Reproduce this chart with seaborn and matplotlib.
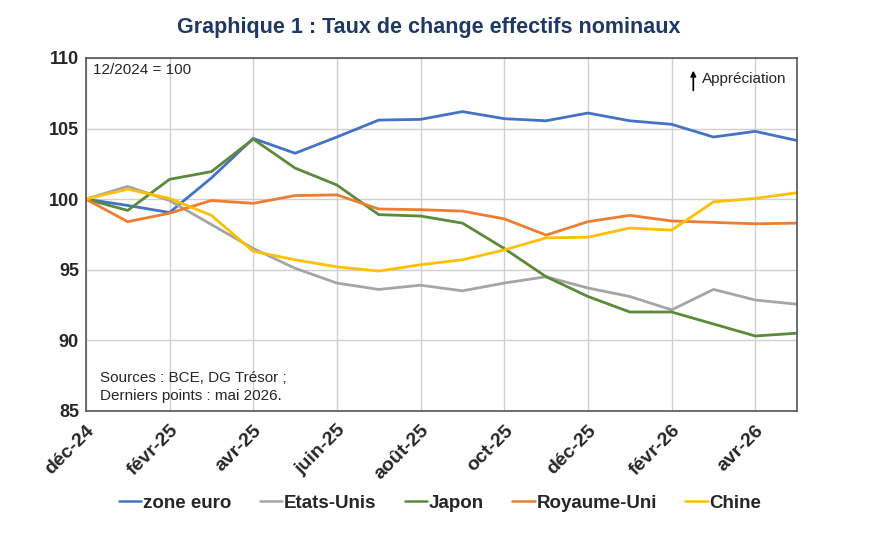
import matplotlib.pyplot as plt
import seaborn as sns
import pandas as pd

mois = ['déc-24', 'janv-25', 'févr-25', 'mars-25', 'avr-25', 'mai-25', 'juin-25', 'juil-25',
        'août-25', 'sept-25', 'oct-25', 'nov-25', 'déc-25', 'janv-26', 'févr-26', 'mars-26',
        'avr-26', 'mai-26']

zone_euro = [100, 99.55, 99.05, 101.5, 104.3, 103.25, 104.4, 105.6, 105.65, 106.2,
             105.7, 105.55, 106.1, 105.55, 105.3, 104.4, 104.8, 104.15]
etats_unis = [100, 100.9, 99.9, 98.2, 96.5, 95.1, 94.05, 93.6, 93.9, 93.5,
              94.05, 94.5, 93.7, 93.1, 92.15, 93.6, 92.85, 92.55]
japon = [100, 99.2, 101.4, 101.95, 104.25, 102.2, 101.0, 98.9, 98.8, 98.3,
         96.5, 94.5, 93.1, 92.0, 92.0, 91.15, 90.3, 90.5]
royaume_uni = [100, 98.4, 99.0, 99.9, 99.7, 100.25, 100.3, 99.3, 99.25, 99.15,
               98.6, 97.45, 98.4, 98.85, 98.45, 98.35, 98.25, 98.3]
chine = [100, 100.7, 100.05, 98.85, 96.3, 95.7, 95.2, 94.9, 95.35, 95.7,
         96.4, 97.25, 97.3, 97.95, 97.8, 99.8, 100.05, 100.45]

series = ['zone euro', 'Etats-Unis', 'Japon', 'Royaume-Uni', 'Chine']
couleurs = ['#4472C4', '#A5A5A5', '#5A8A3A', '#ED7D31', '#FFC000']

df = pd.DataFrame({
    'mois': list(range(len(mois))) * 5,
    'valeur': zone_euro + etats_unis + japon + royaume_uni + chine,
    'pays': sum([[s] * len(mois) for s in series], []),
})

sns.set_style('white')
plt.rcParams['font.family'] = ['Liberation Sans', 'DejaVu Sans']

fig = plt.figure(figsize=(8.76, 5.47), dpi=100)
ax = fig.add_axes([0.098, 0.249, 0.812, 0.645])

sns.lineplot(data=df, x='mois', y='valeur', hue='pays', hue_order=series,
             palette=couleurs, linewidth=2, ax=ax, legend=True)

ax.set_xlim(0, len(mois) - 1)
ax.set_ylim(85, 110)
ax.set_yticks([85, 90, 95, 100, 105, 110])
ax.set_xticks(range(0, len(mois), 2))
ax.set_xticklabels(mois[::2], rotation=45, ha='right', rotation_mode='anchor',
                   fontsize=14, fontweight='bold')
ax.set_yticklabels([85, 90, 95, 100, 105, 110], fontsize=13, fontweight='bold')
ax.tick_params(axis='x', length=0, pad=8)
ax.tick_params(axis='y', length=0, pad=5)
ax.set_xlabel('')
ax.set_ylabel('')
ax.grid(True, color='#D0D0D0', linewidth=1)
ax.set_axisbelow(True)
for sp in ax.spines.values():
    sp.set_color('#555555')
    sp.set_linewidth(1.2)

ax.text(0.01, 0.966, '12/2024 = 100', transform=ax.transAxes, fontsize=11, va='center')
ax.annotate('', xy=(0.854, 0.972), xytext=(0.854, 0.9), xycoords='axes fraction',
            arrowprops=dict(arrowstyle='-|>', color='black', lw=1.2, mutation_scale=8))
ax.text(0.866, 0.94, 'Appréciation', transform=ax.transAxes, fontsize=11, va='center')
ax.text(0.02, 0.093, 'Sources : BCE, DG Trésor ;', transform=ax.transAxes,
        fontsize=11, va='center')
ax.text(0.02, 0.042, 'Derniers points : mai 2026.', transform=ax.transAxes,
        fontsize=11, va='center')

fig.text(0.489, 0.95, 'Graphique 1 : Taux de change effectifs nominaux', ha='center',
         va='center', fontsize=15.5, fontweight='bold', color='#1F3864')

handles, labels = ax.get_legend_handles_labels()
leg = ax.legend(handles, labels, loc='center', bbox_to_anchor=(0.498, -0.262), ncol=5,
                frameon=False, handlelength=1.2, handletextpad=0.1, columnspacing=1.5,
                prop={'weight': 'bold', 'size': 13.5})
for line in leg.get_lines():
    line.set_linewidth(1.8)

plt.savefig('out.png', dpi=100)
